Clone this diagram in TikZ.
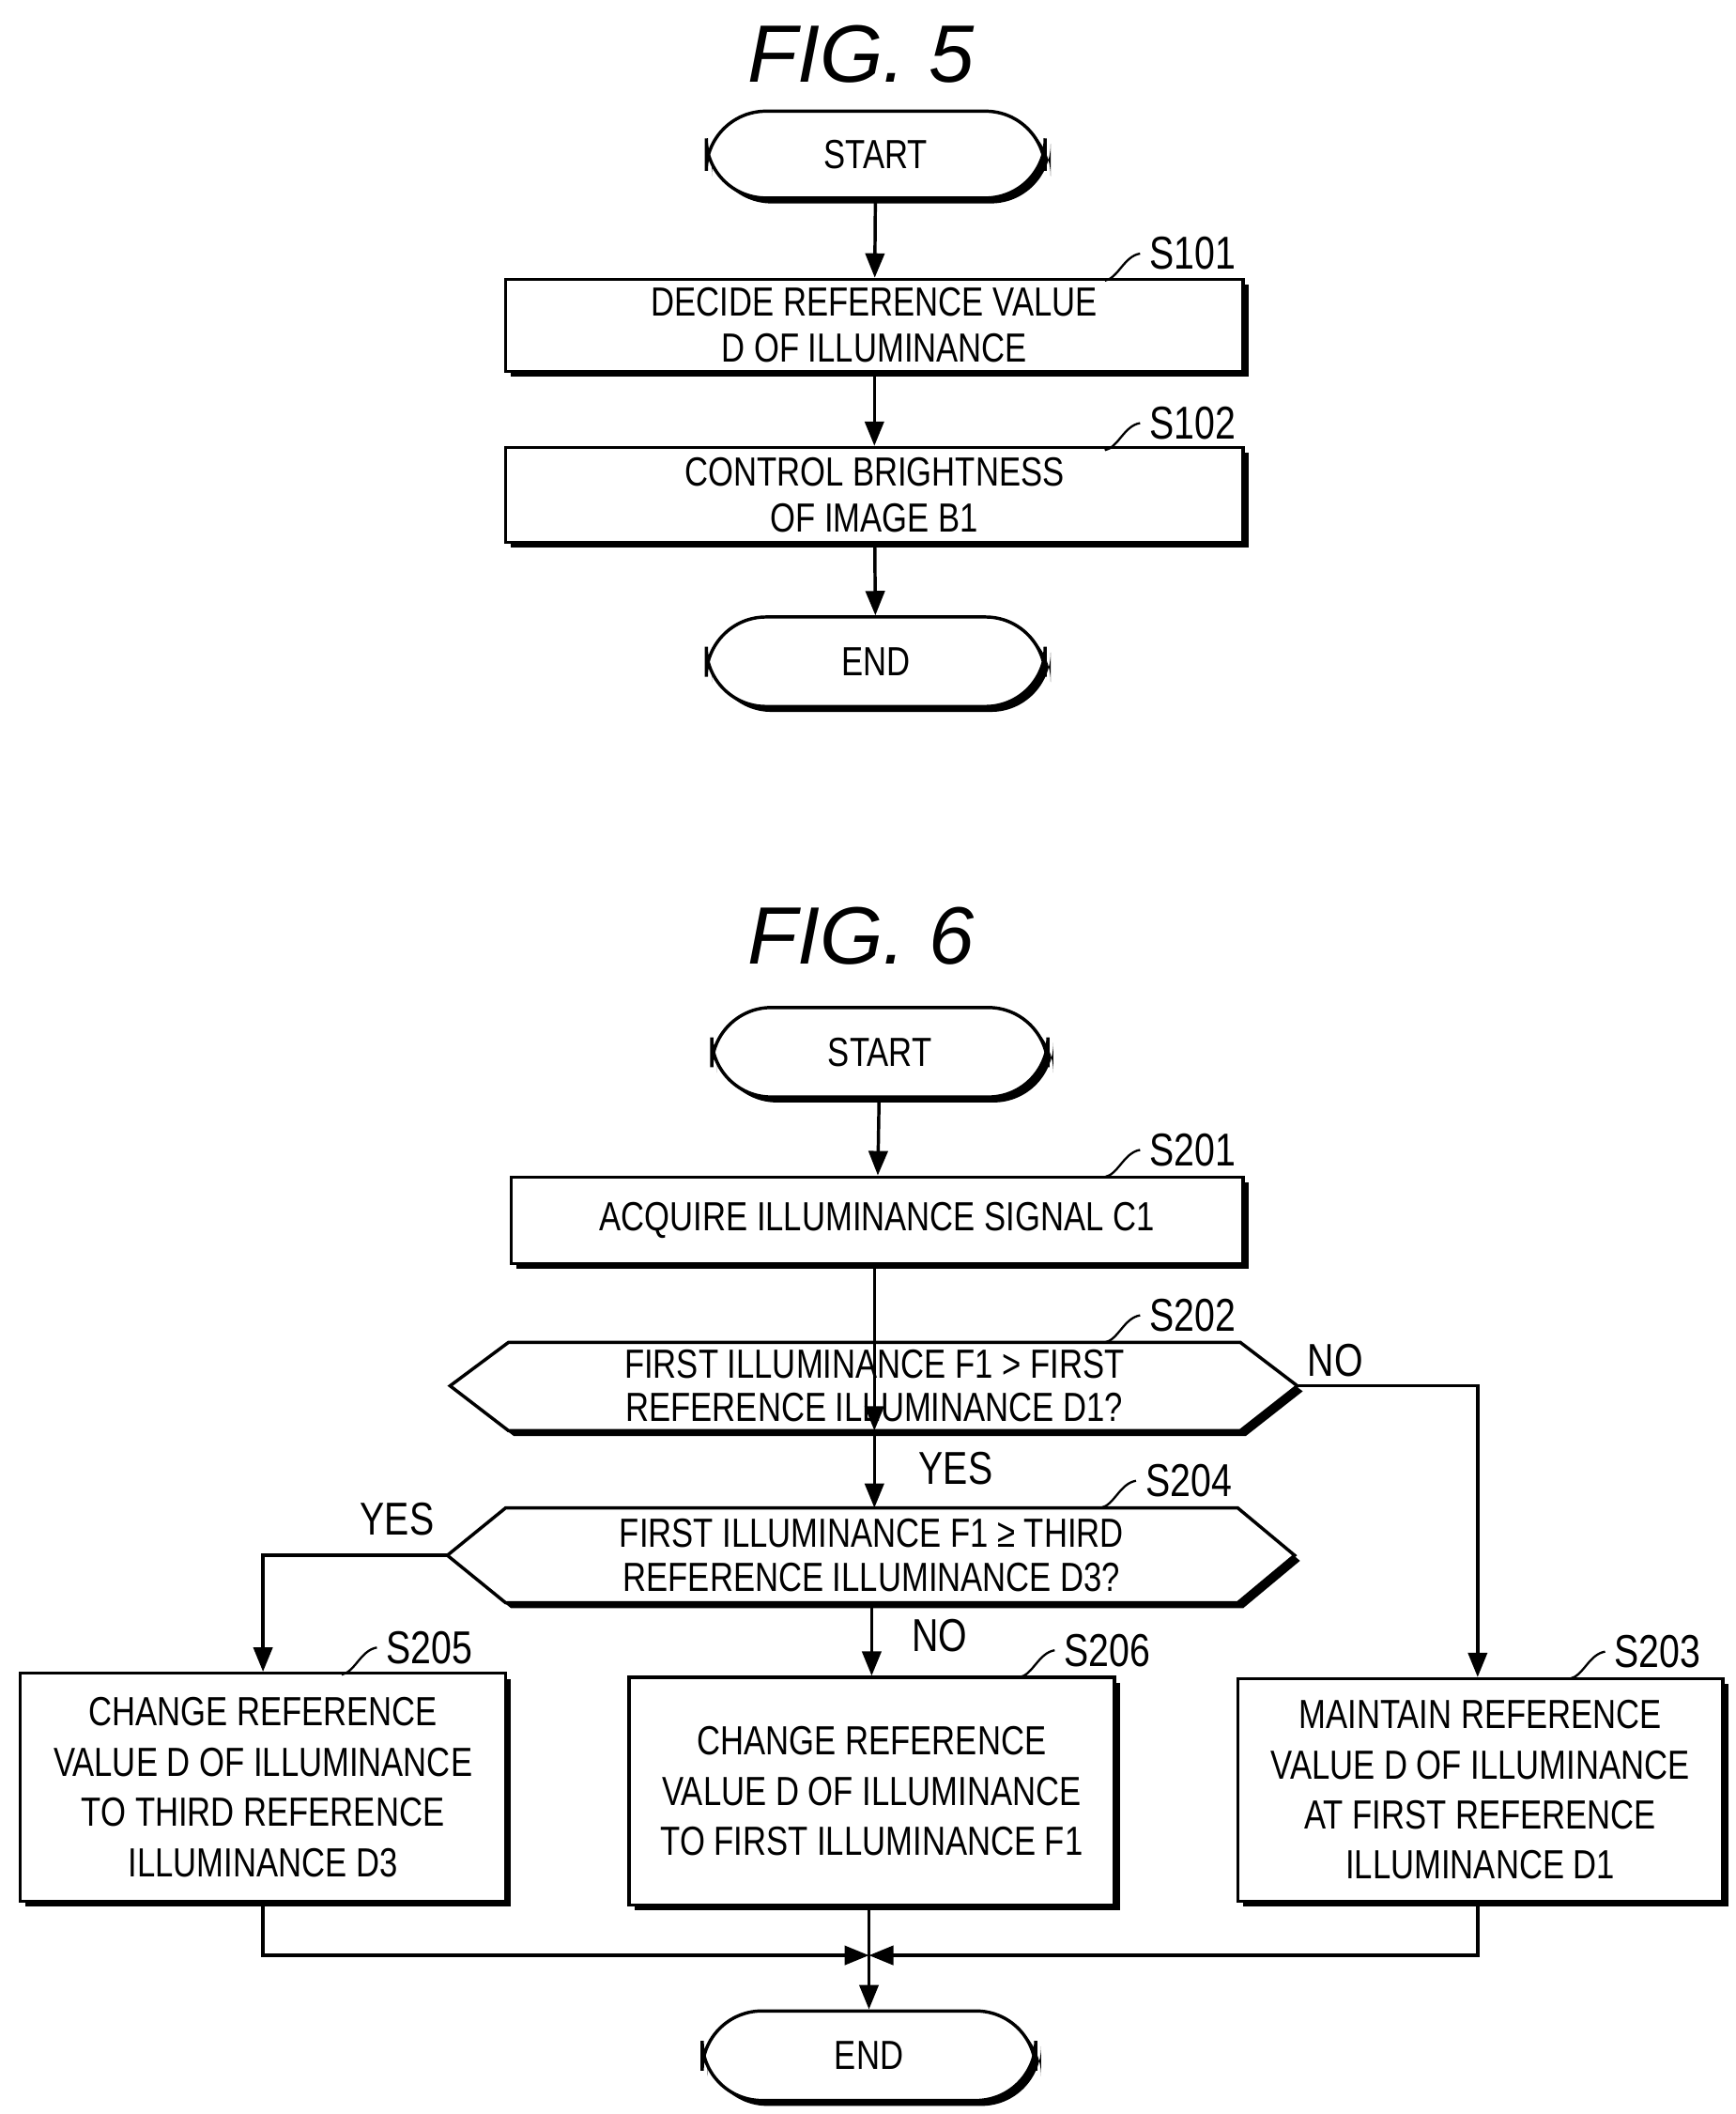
\documentclass[tikz,border=0pt]{standalone}
\usepackage{fontspec}
\setmainfont{Liberation Sans}[FakeStretch=0.8]
\newfontfamily\titlefont{Liberation Sans}
\usetikzlibrary{shadows,arrows.meta}
\begin{document}
\begin{tikzpicture}[x=0.5pt,y=-0.5pt,
 box/.style={draw,line width=1.2pt,fill=white,drop shadow={shadow xshift=2pt,shadow yshift=-2pt,opacity=1,fill=black},align=center,font=\fontsize{15}{17}\selectfont,inner sep=0pt},
 term/.style={box,rounded corners=22pt},
 lab/.style={font=\fontsize{17}{19}\selectfont},
 arr/.style={-{Triangle[length=9pt,width=7pt]},line width=1.2pt},
 ln/.style={line width=1.2pt},
 hex/.style={draw,line width=1.2pt,fill=white,drop shadow={shadow xshift=2pt,shadow yshift=-2pt,opacity=1,fill=black}}]
\useasboundingbox (0,0) rectangle (1280,1559);
\newcommand{\lead}[3]{\draw[line width=0.8pt] (#1,#2) .. controls (#1+10,#2-2) and (#1+14,#2-18) .. (#1+26,#2-20); \node[lab,anchor=west] at (#1+26,#2-20) {#3};}
\node[font=\titlefont\itshape\fontsize{30}{32}\selectfont] (t5) at (635,40) {FIG. 5};
\node[term,minimum width=125pt,minimum height=32pt] (st) at (646,114) {START};
\node[box,minimum width=272pt,minimum height=34pt] (s101) at (645,240) {DECIDE REFERENCE VALUE\\D OF ILLUMINANCE};
\node[box,minimum width=272pt,minimum height=35pt] (s102) at (645,365) {CONTROL BRIGHTNESS\\OF IMAGE B1};
\node[term,minimum width=125pt,minimum height=33pt] (en) at (646,488) {END};
\lead{815}{207}{S101}
\lead{815}{332}{S102}
\draw[arr] (st) -- (s101);
\draw[arr] (s101) -- (s102);
\draw[arr] (s102) -- (en);

\node[font=\titlefont\itshape\fontsize{30}{32}\selectfont] (t6) at (635,690) {FIG. 6};
\node[term,minimum width=124pt,minimum height=33pt] (st2) at (649,776) {START};
\node[box,minimum width=270pt,minimum height=32pt] (s201) at (647,900) {ACQUIRE ILLUMINANCE SIGNAL C1};
\lead{815}{868}{S201}
% S202 hexagon
\draw[hex] (332,1022) -- (375,990) -- (915,990) -- (957,1022) -- (915,1055) -- (375,1055) -- cycle;
\node[align=center,font=\fontsize{15}{16}\selectfont] (s202) at (645,1022) {FIRST ILLUMINANCE F1 > FIRST\\REFERENCE ILLUMINANCE D1?};
\coordinate (s202r) at (957,1022); \coordinate (s202b) at (645,1055);
\lead{815}{990}{S202}
\node[lab] (no1) at (985,1003) {NO};
% S204 hexagon
\draw[hex] (330,1147) -- (373,1112) -- (913,1112) -- (955,1147) -- (913,1182) -- (373,1182) -- cycle;
\node[align=center,font=\fontsize{15}{16}\selectfont] (s204) at (643,1147) {FIRST ILLUMINANCE F1 ≥ THIRD\\REFERENCE ILLUMINANCE D3?};
\coordinate (s204l) at (330,1147); \coordinate (s204t) at (645,1112); \coordinate (s204b) at (643,1182);
\lead{812}{1112}{S204}
\node[lab] (yes1) at (705,1083) {YES};
\node[lab] (yes2) at (293,1120) {YES};
\node[lab] (no2) at (693,1206) {NO};
\node[box,minimum width=179pt,minimum height=84pt,font=\fontsize{15}{18.5}\selectfont] (s205) at (194,1318) {CHANGE REFERENCE\\VALUE D OF ILLUMINANCE\\TO THIRD REFERENCE\\ILLUMINANCE D3};
\node[box,minimum width=179pt,minimum height=84pt,font=\fontsize{15}{18.5}\selectfont] (s206) at (643,1321) {CHANGE REFERENCE\\VALUE D OF ILLUMINANCE\\TO FIRST ILLUMINANCE F1};
\node[box,minimum width=179pt,minimum height=82pt,font=\fontsize{15}{18.5}\selectfont] (s203) at (1092,1320) {MAINTAIN REFERENCE\\VALUE D OF ILLUMINANCE\\AT FIRST REFERENCE\\ILLUMINANCE D1};
\lead{252}{1235}{S205}
\lead{752}{1237}{S206}
\lead{1158}{1238}{S203}
\node[term,minimum width=123pt,minimum height=33pt] (en2) at (641,1516) {END};
\coordinate (j) at (641,1442);
\draw[arr] (st2) -- (s201);
\draw[arr] (s201.south -| s202b) -- (s202b);
\draw[arr] (s202b) -- (s204t);
\draw[arr] (s202r) -- (1090,1022) -- (s203.north -| 1090,0);
\draw[arr] (s204l) -- (194,1147) -- (s205);
\draw[arr] (s204b) -- (s206);
\draw[arr] (s206.south -| j) -- (en2);
\draw[arr] (s205.south) -- (194,1442) -- (j);
\draw[arr] (s203.south -| 1090,0) -- (1090,1442) -- (j);
\end{tikzpicture}
\end{document}
